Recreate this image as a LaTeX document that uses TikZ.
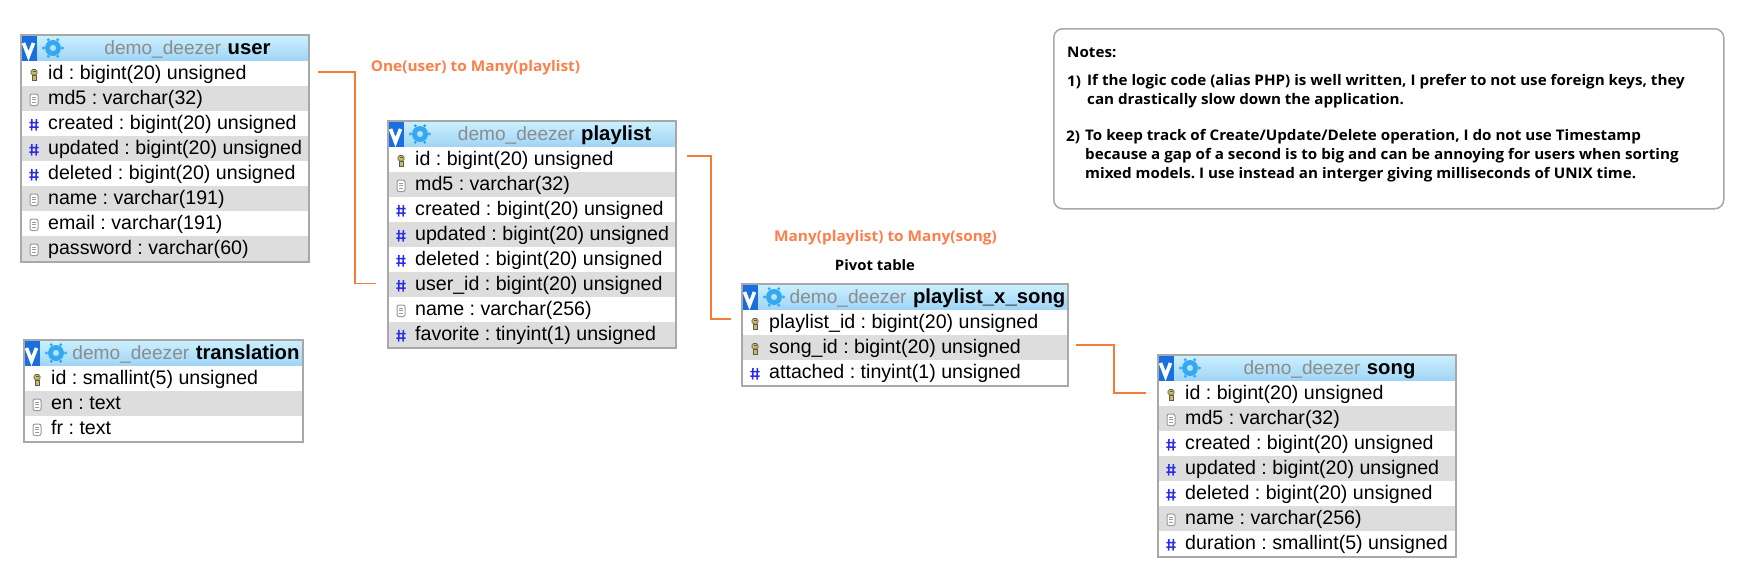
\documentclass[tikz,border=0pt]{standalone}
\usepackage{fontspec}
\setmainfont{Liberation Sans}
\newfontfamily\notefont[FakeStretch=1.04]{Open Sans}
\usetikzlibrary{calc}
\frenchspacing
\definecolor{framegray}{HTML}{A8A8A8}
\definecolor{stripe}{HTML}{DDDDDD}
\definecolor{headtop}{HTML}{CDF1FF}
\definecolor{headbot}{HTML}{9FD4F5}
\definecolor{vblue}{HTML}{1A6FE0}
\definecolor{gearblue}{HTML}{33A9F2}
\definecolor{linkorange}{HTML}{F47B3A}
\definecolor{labelorange}{HTML}{FF7F4A}
\definecolor{schemagray}{HTML}{8C8C8C}
\definecolor{hashblue}{HTML}{2A2AE8}
\definecolor{keyfill}{HTML}{C9BC5A}
\definecolor{docgray}{HTML}{9A9A9A}
\tikzset{
  rowbox/.style={anchor=north west,inner sep=0pt,minimum height=25pt,text height=15pt,text depth=3pt,font=\fontsize{19.6}{20}\selectfont},
  headbox/.style={anchor=north west,inner sep=0pt,minimum height=27pt,top color=headtop,bottom color=headbot},
  titlebox/.style={inner sep=0pt,text height=14pt,text depth=4pt},
  framebox/.style={anchor=north west,inner sep=0pt,draw=framegray,line width=2pt},
  link/.style={draw=linkorange,line width=1.5pt},
  orangelabel/.style={inner sep=0pt,text=labelorange,font=\notefont\bfseries\fontsize{14.8}{16}\selectfont},
  pivotlabel/.style={inner sep=0pt,font=\notefont\bfseries\fontsize{14.3}{16}\selectfont},
  notetext/.style={inner sep=0pt,anchor=west,font=\notefont\bfseries\fontsize{14.6}{16}\selectfont},
  notebox/.style={anchor=north west,inner sep=0pt,draw=framegray,line width=1.5pt,rounded corners=9pt}
}
\newcommand{\ick}{%
  \fill[keyfill,draw=black!65,line width=.6pt,rounded corners=1.5pt] (-3,-5) rectangle (3,0.5);
  \fill[keyfill,draw=black!65,line width=.6pt] (-2,0.5) rectangle (2,6);
  \draw[black!65,line width=.8pt] (-1.5,-3) -- (1.5,-3);
}
\newcommand{\icd}{%
  \draw[docgray,fill=white,line width=1pt,rounded corners=2pt] (-4,-5.5) rectangle (4,6);
  \draw[docgray,line width=.9pt] (-2,-2.5) -- (2,-2.5) (-2,0.3) -- (2,0.3) (-2,3) -- (2,3);
}
\newcommand{\ich}{%
  \draw[hashblue,line width=1.5pt] (-2,-5.5) -- (-2.4,6) (2.4,-5.5) -- (2,6) (-4.6,-2) -- (4.6,-2) (-4.6,2.6) -- (4.6,2.6);
}
% name, x, y, width, table title, number of rows, rows
\newcommand{\dbtable}[7]{%
  \node[headbox,minimum width=#4pt] (#1-h) at (#2,#3) {};
  \fill[vblue] (#2,#3) rectangle ++(17,27);
  \draw[white,line width=3.6pt] ($(#2,#3)+(3.5,9)$) -- ($(#2,#3)+(8.5,22)$) -- ($(#2,#3)+(13.5,9)$);
  \fill[gearblue,even odd rule] ($(#2,#3)+(33,14)$) circle (8) ($(#2,#3)+(33,14)$) circle (3.2);
  \foreach \ang in {0,60,...,300} {\fill[gearblue] ($(#2,#3)+(33,14)+(\ang:9.5)$) circle (1.7);}
  \node[titlebox] (#1-t) at ({#2+#4/2+23.5},{#3+15}) {\textcolor{schemagray}{\fontsize{19.1}{20}\selectfont demo\_deezer}\hskip 6.5pt{\fontsize{20.3}{20}\selectfont\bfseries #5}};
  \foreach \ic/\rowtxt [count=\i] in {#7} {
    \pgfmathtruncatemacro{\odd}{mod(\i,2)}
    \ifnum\odd=0
      \node[rowbox,fill=stripe] (#1-r\i) at (#2,{#3+27+25*(\i-1)}) {\hbox to #4pt{\hskip 28pt \rowtxt\hss}};
    \else
      \node[rowbox,fill=white] (#1-r\i) at (#2,{#3+27+25*(\i-1)}) {\hbox to #4pt{\hskip 28pt \rowtxt\hss}};
    \fi
    \begin{scope}[shift={(#2+14,{#3+27+25*(\i-1)+13.5})}]
      \csname ic\ic\endcsname
    \end{scope}
  }
  \node[framebox,minimum width=#4pt,minimum height={27pt+#6*25pt}] (#1) at (#2,#3) {};
}
\begin{document}
\begin{tikzpicture}[x=1pt,y=-1pt]
\useasboundingbox (0,0) rectangle (1745,582);
\fill[white] (0,0) rectangle (1745,582);

\dbtable{user}{20}{34}{288}{user}{8}{k/id : bigint(20) unsigned,d/md5 : varchar(32),h/created : bigint(20) unsigned,h/updated : bigint(20) unsigned,h/deleted : bigint(20) unsigned,d/name : varchar(191),d/email : varchar(191),d/password : varchar(60)}
\dbtable{playlist}{387}{120}{288}{playlist}{8}{k/id : bigint(20) unsigned,d/md5 : varchar(32),h/created : bigint(20) unsigned,h/updated : bigint(20) unsigned,h/deleted : bigint(20) unsigned,h/user\_id : bigint(20) unsigned,d/name : varchar(256),h/favorite : tinyint(1) unsigned}
\dbtable{translation}{23}{339}{279}{translation}{3}{k/id : smallint(5) unsigned,d/en : text,d/fr : text}
\dbtable{pxs}{741}{283}{326}{playlist\_x\_song}{3}{k/playlist\_id : bigint(20) unsigned,k/song\_id : bigint(20) unsigned,h/attached : tinyint(1) unsigned}
\dbtable{song}{1157}{354}{298}{song}{7}{k/id : bigint(20) unsigned,d/md5 : varchar(32),h/created : bigint(20) unsigned,h/updated : bigint(20) unsigned,h/deleted : bigint(20) unsigned,d/name : varchar(256),h/duration : smallint(5) unsigned}

\coordinate (m1) at (355,180);
\coordinate (m2) at (711,240);
\coordinate (m3) at (1114,370);
\draw[link,shorten <=10pt,shorten >=11pt] ([yshift=1.5pt]user-r1.east) -| (m1) |- ([yshift=1pt]playlist-r6.west);
\draw[link,shorten <=12pt,shorten >=10pt] ([yshift=3.5pt]playlist-r1.east) -| (m2) |- ([yshift=3.5pt]pxs-r1.west);
\draw[link,shorten <=9pt,shorten >=11pt] ([yshift=2.5pt]pxs-r2.east) -| (m3) |- ([yshift=.5pt]song-r1.west);

\node[orangelabel] (lab1) at (475.5,68) {One(user) to Many(playlist)};
\node[orangelabel] (lab2) at (885.5,238) {Many(playlist) to Many(song)};
\node[pivotlabel] (lab3) at (875,265) {Pivot table};

\node[notebox,minimum width=670pt,minimum height=180pt] (notes) at (1053,28) {};
\node[notetext] (n0) at (1067,52) {Notes:};
\node[notetext] (n1a) at (1067,82) {1)};
\node[notetext] (n1) at (1087,82) {If the logic code (alias PHP) is well written, I prefer to not use foreign keys, they};
\node[notetext] (n1b) at (1087,101) {can drastically slow down the application.};
\node[notetext] (n2a) at (1066,137) {2)};
\node[notetext] (n2) at (1085,137) {To keep track of Create/Update/Delete operation, I do not use Timestamp};
\node[notetext] (n2b) at (1085,156) {because a gap of a second is to big and can be annoying for users when sorting};
\node[notetext] (n2c) at (1085,175) {mixed models. I use instead an interger giving milliseconds of UNIX time.};
\end{tikzpicture}
\end{document}
